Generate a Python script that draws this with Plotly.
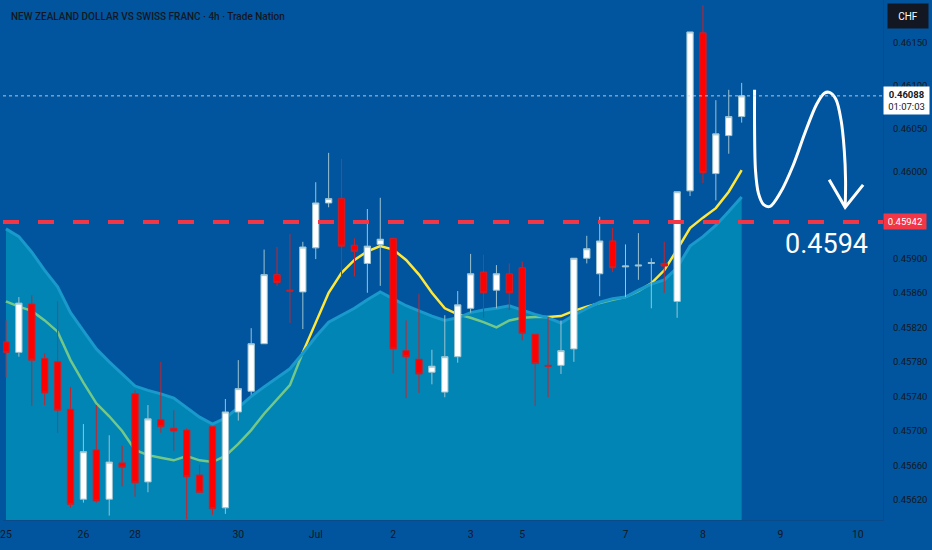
import plotly.graph_objects as go

# ---------------- data ----------------
bar_index = list(range(58))

opens = [0.45803, 0.45791, 0.45847, 0.45784, 0.45780, 0.45725, 0.45621, 0.45678, 0.45621, 0.45663,
         0.45743, 0.45641, 0.45713, 0.45703, 0.45701, 0.45649, 0.45705, 0.45611, 0.45722, 0.45746,
         0.45801, 0.45881, 0.45863, 0.45861, 0.45912, 0.45964, 0.45969, 0.45915, 0.45894, 0.45916,
         0.45923, 0.45793, 0.45783, 0.45768, 0.45745, 0.45786, 0.45842, 0.45884, 0.45863, 0.45882,
         0.45889, 0.45812, 0.45776, 0.45776, 0.45795, 0.45900, 0.45882, 0.45920, 0.45890, 0.45891,
         0.45894, 0.45894, 0.45850, 0.45978, 0.46161, 0.45998, 0.46042, 0.46064]
highs = [0.45828, 0.45855, 0.45857, 0.45790, 0.45850, 0.45751, 0.45708, 0.45730, 0.45695, 0.45683,
         0.45747, 0.45730, 0.45780, 0.45724, 0.45703, 0.45661, 0.45705, 0.45737, 0.45782, 0.45819,
         0.45910, 0.45913, 0.45928, 0.45919, 0.45988, 0.46022, 0.46015, 0.45923, 0.45957, 0.45970,
         0.45923, 0.45828, 0.45859, 0.45794, 0.45834, 0.45862, 0.45905, 0.45904, 0.45892, 0.45894,
         0.45896, 0.45812, 0.45832, 0.45828, 0.45900, 0.45926, 0.45948, 0.45935, 0.45916, 0.45929,
         0.45900, 0.45919, 0.45977, 0.46162, 0.46193, 0.46083, 0.46095, 0.46103]
lows = [0.45762, 0.45786, 0.45729, 0.45730, 0.45698, 0.45611, 0.45617, 0.45617, 0.45602, 0.45636,
        0.45624, 0.45629, 0.45698, 0.45677, 0.45598, 0.45629, 0.45603, 0.45604, 0.45712, 0.45742,
        0.45801, 0.45868, 0.45825, 0.45818, 0.45899, 0.45959, 0.45878, 0.45879, 0.45860, 0.45868,
        0.45767, 0.45738, 0.45744, 0.45754, 0.45739, 0.45779, 0.45837, 0.45831, 0.45842, 0.45840,
        0.45805, 0.45729, 0.45739, 0.45766, 0.45780, 0.45894, 0.45856, 0.45884, 0.45855, 0.45875,
        0.45842, 0.45860, 0.45831, 0.45972, 0.45987, 0.45967, 0.46021, 0.46057]
closes = [0.45791, 0.45848, 0.45782, 0.45744, 0.45724, 0.45615, 0.45676, 0.45619, 0.45664, 0.45658,
          0.45640, 0.45714, 0.45705, 0.45700, 0.45647, 0.45629, 0.45610, 0.45722, 0.45749, 0.45801,
          0.45881, 0.45872, 0.45862, 0.45913, 0.45964, 0.45969, 0.45914, 0.45908, 0.45914, 0.45922,
          0.45795, 0.45786, 0.45766, 0.45775, 0.45786, 0.45846, 0.45882, 0.45860, 0.45882, 0.45860,
          0.45813, 0.45778, 0.45775, 0.45793, 0.45900, 0.45911, 0.45920, 0.45889, 0.45891, 0.45892,
          0.45895, 0.45891, 0.45977, 0.46162, 0.45999, 0.46044, 0.46064, 0.46088]

ma_values = [0.45850, 0.45844, 0.45839, 0.45828, 0.45815, 0.45782, 0.45756, 0.45732, 0.45717, 0.45700,
             0.45678, 0.45672, 0.45669, 0.45666, 0.45671, 0.45666, 0.45664, 0.45671, 0.45685, 0.45701,
             0.45720, 0.45736, 0.45753, 0.45791, 0.45826, 0.45860, 0.45883, 0.45898, 0.45908, 0.45914,
             0.45910, 0.45898, 0.45881, 0.45860, 0.45842, 0.45835, 0.45831, 0.45826, 0.45820, 0.45828,
             0.45831, 0.45832, 0.45832, 0.45833, 0.45839, 0.45844, 0.45848, 0.45852, 0.45855, 0.45862,
             0.45871, 0.45886, 0.45910, 0.45935, 0.45947, 0.45958, 0.45977, 0.46002]

band_values = [0.45934, 0.45925, 0.45907, 0.45886, 0.45867, 0.45837, 0.45816, 0.45795, 0.45780, 0.45766,
               0.45752, 0.45747, 0.45743, 0.45738, 0.45727, 0.45716, 0.45708, 0.45715, 0.45727, 0.45740,
               0.45751, 0.45761, 0.45772, 0.45790, 0.45809, 0.45826, 0.45834, 0.45842, 0.45852, 0.45861,
               0.45853, 0.45845, 0.45839, 0.45833, 0.45828, 0.45831, 0.45837, 0.45840, 0.45842, 0.45845,
               0.45840, 0.45835, 0.45831, 0.45825, 0.45834, 0.45842, 0.45849, 0.45853, 0.45855, 0.45863,
               0.45870, 0.45875, 0.45889, 0.45914, 0.45925, 0.45938, 0.45954, 0.45971]

date_tick_positions = [0, 6, 10, 18, 24, 30, 36, 40, 48, 54, 60, 66]
date_tick_labels = ["25", "26", "28", "30", "Jul", "2", "3", "5", "7", "8", "9", "10"]

# 0.45950 sits under the red level label in the reference, so it is not listed
price_ticks = [0.4615, 0.4610, 0.4605, 0.4600, 0.4590, 0.4586, 0.4582,
               0.4578, 0.4574, 0.4570, 0.4566, 0.4562]

target_level = 0.45942
target_text = "0.4594"
countdown_text = "01:07:03"

# hand-drawn projection arrow (bar index / price)
arrow_x = [58.0, 58.0, 58.07, 58.3, 58.7, 59.2, 60.0, 61.0, 61.9, 62.8, 63.4, 63.8, 64.3, 64.7, 64.95, 65.05, 65.02]
arrow_y = [0.46095, 0.46050, 0.46002, 0.45975, 0.45962, 0.45960, 0.45976, 0.46008, 0.46045, 0.46078,
           0.46091, 0.46092, 0.46084, 0.46060, 0.46025, 0.45990, 0.45959]
head_x = [63.78, 65.02, 66.41]
head_y = [0.45991, 0.45959, 0.45985]

X_RANGE = [-0.23, 67.95]
Y_RANGE = [0.455969, 0.46199]

# ---------------- styling ----------------
BG = "#01559E"
TXT = "#131722"
FONT = "Roboto, Liberation Sans, sans-serif"

fig = go.Figure()

# indicator layer (base axes, drawn below the candles)
fig.add_trace(go.Scatter(
    x=bar_index, y=ma_values, mode="lines",
    line=dict(color="#FFE83B", width=2.5), hoverinfo="skip", showlegend=False))

fig.add_trace(go.Scatter(
    x=bar_index, y=band_values, mode="lines", fill="tozeroy",
    fillcolor="rgba(0,173,200,0.55)",
    line=dict(color="#1A99CB", width=3), hoverinfo="skip", showlegend=False))

# price layer (overlay axes, drawn on top)
fig.add_trace(go.Candlestick(
    x=bar_index, open=opens, high=highs, low=lows, close=closes,
    xaxis="x2", yaxis="y2",
    increasing=dict(line=dict(color="#9CC3D0", width=1), fillcolor="#FFFFFF"),
    decreasing=dict(line=dict(color="#C8232C", width=1), fillcolor="#FF0000"),
    whiskerwidth=0, hoverinfo="skip", showlegend=False))

fig.add_trace(go.Scatter(
    x=arrow_x, y=arrow_y, mode="lines", xaxis="x2", yaxis="y2",
    line=dict(color="white", width=3, shape="spline", smoothing=0.9),
    hoverinfo="skip", showlegend=False))
fig.add_trace(go.Scatter(
    x=head_x, y=head_y, mode="lines", xaxis="x2", yaxis="y2",
    line=dict(color="white", width=3),
    hoverinfo="skip", showlegend=False))

# horizontal levels
fig.add_shape(type="line", xref="paper", x0=0, x1=1, yref="y",
              y0=closes[-1], y1=closes[-1],
              line=dict(color="rgba(210,220,235,0.85)", width=1, dash="dot"))
fig.add_shape(type="line", xref="paper", x0=0, x1=1, yref="y",
              y0=target_level, y1=target_level,
              line=dict(color="#F23645", width=4, dash="16px,19px"))

ann = []
ann.append(dict(xref="paper", yref="paper", x=0, y=1, xanchor="left", yanchor="top",
                xshift=6, yshift=-9, showarrow=False,
                text="NEW ZEALAND DOLLAR VS SWISS FRANC · 4h · Trade Nation",
                font=dict(family=FONT, size=10, weight=500, color=TXT)))
ann.append(dict(xref="x", yref="y", x=63.55, y=0.45916, showarrow=False,
                text=target_text, font=dict(family=FONT, size=27, color="white")))
ann.append(dict(xref="paper", yref="paper", x=1, y=1, xanchor="left", yanchor="top",
                xshift=4, yshift=-3, showarrow=False, text="CHF",
                width=38, height=22, bgcolor="#131722",
                font=dict(family=FONT, size=10, color="white")))
ann.append(dict(xref="paper", yref="y", x=1, y=closes[-1], xanchor="left", yanchor="top",
                xshift=0, yshift=10, showarrow=False,
                text=f"<b>{closes[-1]:.5f}</b><br>{countdown_text}",
                width=41, bgcolor="white", borderpad=2,
                font=dict(family=FONT, size=9.5, color=TXT)))
ann.append(dict(xref="paper", yref="y", x=1, y=target_level, xanchor="left", yanchor="middle",
                showarrow=False, text=f"{target_level:.5f}",
                width=38, bgcolor="#F23645", borderpad=2,
                font=dict(family=FONT, size=9.5, color="white")))

fig.update_layout(
    width=932, height=550,
    margin=dict(l=0, r=49, t=0, b=30),
    paper_bgcolor=BG, plot_bgcolor=BG,
    showlegend=False,
    annotations=ann,
    xaxis=dict(range=X_RANGE, showgrid=False, zeroline=False,
               rangeslider=dict(visible=False),
               tickmode="array", tickvals=date_tick_positions, ticktext=date_tick_labels,
               tickfont=dict(family=FONT, size=10.5, color=TXT),
               ticklabeloverflow="allow", ticklabelstandoff=4,
               showline=True, linecolor="#0B4A88", linewidth=1, ticks=""),
    yaxis=dict(range=Y_RANGE, side="right", showgrid=False, zeroline=False,
               tickmode="array", tickvals=price_ticks,
               ticktext=[f"{v:.5f}" for v in price_ticks],
               tickfont=dict(family=FONT, size=9.5, color=TXT),
               ticklabelstandoff=7,
               showline=True, linecolor="#0B4A88", linewidth=1, ticks=""),
    xaxis2=dict(range=X_RANGE, overlaying="x", visible=False,
                rangeslider=dict(visible=False)),
    yaxis2=dict(range=Y_RANGE, overlaying="y", side="right", visible=False),
)

fig.write_html("out.html",
               config={"displayModeBar": False, "staticPlot": True},
               post_script="document.body.style.margin='0';document.body.style.padding='0';"
                           "document.body.style.overflow='hidden';")
